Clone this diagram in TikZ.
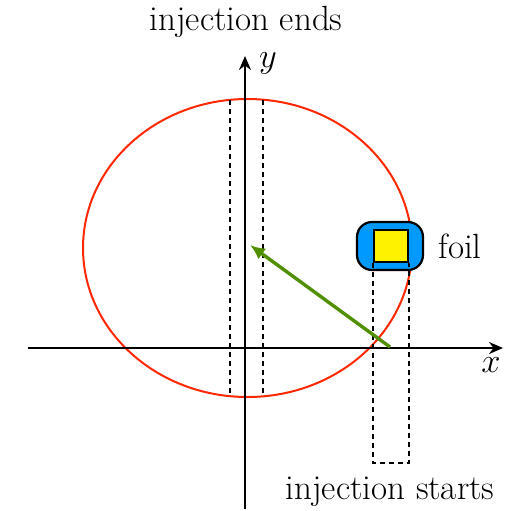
\documentclass[tikz,border=0pt]{standalone}
\usepackage{tikz}
\usetikzlibrary{arrows.meta,positioning}
\definecolor{orbitred}{RGB}{255,40,0}
\definecolor{foilblue}{RGB}{0,153,255}
\definecolor{kickgreen}{RGB}{79,143,0}

\begin{document}
\begin{tikzpicture}[
  x=0.5pt,y=-0.5pt,
  axis/.style={line width=1.1pt,-{Stealth[length=7pt,width=6pt]}},
  orbit/.style={draw=orbitred,line width=1pt},
  guide/.style={line width=1.3pt,dash pattern=on 2.5pt off 2pt},
  kick/.style={draw=kickgreen,line width=1.7pt,-{Latex[length=7.5pt,width=6.5pt]}},
  foilbox/.style={draw,line width=1.1pt,fill=foilblue,rounded corners=7.5pt,
    minimum width=33pt,minimum height=24pt,inner sep=0pt},
  target/.style={draw,line width=1.1pt,fill=yellow,
    minimum width=17pt,minimum height=16pt,inner sep=0pt},
  lbl/.style={font=\fontsize{17.5}{21}\selectfont,inner sep=1pt}
]
\useasboundingbox (0,0) rectangle (513,510);
\coordinate (xl) at (28,348);
\coordinate (xr) at (503,348);
\coordinate (yb) at (245,509);
\coordinate (yt) at (245,56);
\coordinate (bot) at (0,463);
\draw[orbit] (247.5,248) ellipse [x radius=164.5,y radius=149];
\draw[guide] (230,100) -- (230,396);
\draw[guide] (263,100) -- (263,396);
\draw[axis] (xl) -- (xr);
\draw[axis] (yb) -- (yt);
\node[lbl] (ylab) at (268,63) {$y$};
\node[lbl] (xlab) at (491,365) {$x$};
\node[foilbox] (foil) at (390,246) {};
\node[target] (tgt) at (391,246) {};
\draw[guide] (tgt.south west) -- (tgt.south west |- bot) -- (tgt.south east |- bot) -- (tgt.south east);
\coordinate (start) at (390,347);
\coordinate (end) at (250,245);
\draw[kick] (start) -- (end);
\node[lbl,right=6pt of foil] (foillab) {foil};
\node[lbl] (ends) at (246,22) {injection ends};
\node[lbl] (starts) at (390,492) {injection starts};
\end{tikzpicture}
\end{document}
